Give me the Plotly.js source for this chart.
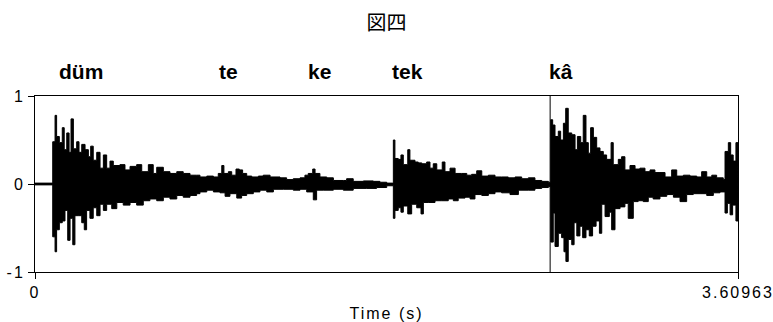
<!DOCTYPE html>
<html>
<head>
<meta charset="utf-8">
<script src="https://cdn.plot.ly/plotly-3.0.1.min.js"></script>
<style>
html,body{margin:0;padding:0;background:#fff;}
#chart{width:773px;height:322px;}
#chart .xtick text, #chart .ytick text, #chart .g-xtitle text{letter-spacing:2px;}
</style>
</head>
<body>
<div id="chart"></div>
<script>
// Waveform envelope (time in s, amplitude)
const upperTime = [0,0.088,0.091,0.103,0.111,0.125,0.140,0.150,0.163,0.175,0.185,0.197,0.214,0.226,0.240,0.257,0.274,0.286,0.299,0.317,0.334,0.351,0.368,0.385,0.402,0.436,0.462,0.488,0.522,0.548,0.582,0.607,0.625,0.659,0.693,0.728,0.761,0.796,0.830,
0.847,0.882,0.916,0.941,0.959,0.970,0.993,1.010,1.032,1.049,1.066,1.087,1.113,1.147,1.172,1.207,1.258,1.292,1.326,1.361,1.386,1.403,1.426,1.438,1.463,1.498,1.532,1.583,1.600,1.634,1.686,1.737,1.771,1.806,1.837,
1.840,1.848,1.865,1.879,1.891,1.914,1.925,1.951,1.968,1.986,2.011,2.028,2.045,2.063,2.091,2.105,2.131,2.157,2.191,2.217,2.242,2.268,2.294,2.328,2.362,2.396,2.430,2.465,2.499,2.533,2.567,2.602,2.636,
2.648,2.658,2.670,2.687,2.699,2.713,2.725,2.738,2.756,2.773,2.785,2.802,2.815,2.829,2.841,2.853,2.867,2.884,2.901,2.918,2.935,2.958,2.969,2.995,3.012,3.029,3.055,3.081,3.106,3.132,3.158,3.183,3.209,3.235,3.269,3.295,3.329,3.363,3.398,3.423,3.449,3.475,3.500,3.534,3.543,3.560,3.572,3.585,3.599,3.6096];
const upperAmp = [0.01,0.01,0.48,0.78,0.54,0.47,0.64,0.39,0.58,0.36,0.74,0.40,0.48,0.36,0.45,0.39,0.31,0.43,0.27,0.36,0.18,0.33,0.18,0.26,0.21,0.22,0.16,0.20,0.22,0.14,0.22,0.12,0.19,0.14,0.12,0.14,0.12,0.10,0.10,
0.08,0.09,0.08,0.12,0.21,0.12,0.14,0.10,0.17,0.16,0.12,0.09,0.08,0.09,0.10,0.08,0.07,0.05,0.06,0.07,0.10,0.12,0.17,0.12,0.08,0.07,0.04,0.04,0.06,0.03,0.035,0.03,0.02,0.01,0.01,
0.50,0.29,0.28,0.33,0.22,0.39,0.27,0.25,0.24,0.23,0.25,0.18,0.23,0.16,0.25,0.14,0.18,0.12,0.12,0.10,0.11,0.15,0.09,0.10,0.08,0.08,0.07,0.08,0.06,0.07,0.04,0.03,0.02,
0.73,0.67,0.54,0.60,0.50,0.69,0.86,0.58,0.56,0.39,0.54,0.47,0.78,0.47,0.35,0.64,0.53,0.41,0.37,0.33,0.28,0.47,0.22,0.28,0.31,0.16,0.21,0.17,0.18,0.14,0.16,0.13,0.13,0.08,0.16,0.09,0.10,0.09,0.08,0.14,0.08,0.10,0.07,0.05,0.37,0.47,0.33,0.26,0.47,0.47];

const lowerTime = [0,0.088,0.091,0.103,0.111,0.125,0.140,0.154,0.168,0.180,0.194,0.205,0.222,0.240,0.253,0.265,0.282,0.299,0.317,0.334,0.351,0.368,0.394,0.420,0.453,0.488,0.522,0.556,0.590,0.625,0.659,0.693,0.728,0.761,0.796,0.830,
0.847,0.882,0.916,0.950,0.976,1.001,1.036,1.061,1.087,1.121,1.155,1.190,1.224,1.275,1.326,1.361,1.395,1.429,1.446,1.480,1.532,1.583,1.634,1.703,1.754,1.806,
1.840,1.848,1.865,1.879,1.891,1.914,1.934,1.960,1.982,1.994,2.019,2.054,2.088,2.122,2.148,2.173,2.208,2.234,2.259,2.294,2.328,2.362,2.396,2.439,2.482,2.533,2.567,2.602,2.636,
2.648,2.661,2.670,2.687,2.704,2.716,2.726,2.738,2.756,2.768,2.782,2.798,2.812,2.829,2.846,2.863,2.881,2.898,2.910,2.927,2.949,2.961,2.978,3.004,3.029,3.046,3.072,3.097,3.123,3.149,3.174,3.209,3.244,3.278,3.312,3.346,3.380,3.415,3.449,3.483,3.517,3.543,3.555,3.569,3.582,3.599,3.6096];
const lowerAmp = [-0.01,-0.01,-0.60,-0.77,-0.52,-0.44,-0.42,-0.30,-0.64,-0.39,-0.69,-0.36,-0.36,-0.44,-0.52,-0.30,-0.39,-0.27,-0.36,-0.23,-0.30,-0.23,-0.28,-0.21,-0.24,-0.21,-0.24,-0.19,-0.17,-0.19,-0.15,-0.17,-0.13,-0.15,-0.13,-0.11,
-0.09,-0.07,-0.09,-0.10,-0.14,-0.11,-0.16,-0.13,-0.11,-0.09,-0.07,-0.09,-0.06,-0.06,-0.07,-0.06,-0.09,-0.18,-0.07,-0.07,-0.06,-0.07,-0.05,-0.05,-0.04,-0.02,
-0.39,-0.30,-0.27,-0.32,-0.25,-0.34,-0.23,-0.27,-0.34,-0.21,-0.21,-0.19,-0.19,-0.17,-0.19,-0.16,-0.15,-0.17,-0.12,-0.13,-0.11,-0.09,-0.10,-0.12,-0.07,-0.07,-0.05,-0.04,-0.03,
-0.66,-0.33,-0.71,-0.56,-0.61,-0.77,-0.88,-0.63,-0.69,-0.44,-0.59,-0.48,-0.61,-0.52,-0.59,-0.48,-0.42,-0.56,-0.23,-0.37,-0.32,-0.52,-0.28,-0.26,-0.22,-0.39,-0.20,-0.19,-0.20,-0.15,-0.17,-0.14,-0.12,-0.15,-0.20,-0.12,-0.11,-0.11,-0.13,-0.10,-0.09,-0.33,-0.22,-0.35,-0.24,-0.42,-0.42];

const syllables = ["düm", "te", "ke", "tek", "kâ"];
const syllableTimes = [0.236, 0.994, 1.463, 1.913, 2.701];
const boundaryTimes = [2.645];
const duration = 3.60963;
const xTickVals = [0, duration];
const xTickText = ["0", "3.60963"];
const yTickVals = [-1, 0, 1];
const yTickText = ["-1", "0", "1"];
const chartTitle = "図四";
const xTitle = "Time (s)";

const sansFont = "Liberation Sans, Arial, sans-serif";

const traces = [
  {x: upperTime, y: upperAmp, type: "scatter", mode: "lines", line: {shape: "hv", color: "#000", width: 1}, fill: "tozeroy", fillcolor: "#000", hoverinfo: "skip"},
  {x: lowerTime, y: lowerAmp, type: "scatter", mode: "lines", line: {shape: "hv", color: "#000", width: 1}, fill: "tozeroy", fillcolor: "#000", hoverinfo: "skip"}
];

const annotations = syllables.map((s, i) => ({
  x: syllableTimes[i], xref: "x", y: 1.14, yref: "paper", text: s, showarrow: false,
  xanchor: "center", yanchor: "middle",
  font: {family: sansFont, size: 21, color: "#000", weight: "bold"}
}));

const shapes = boundaryTimes.map(t => ({
  type: "line", xref: "x", yref: "paper", x0: t, x1: t, y0: 0, y1: 1,
  line: {color: "#000", width: 1}
}));

const layout = {
  width: 773, height: 322,
  margin: {l: 35, r: 35, t: 96, b: 50},
  paper_bgcolor: "#fff", plot_bgcolor: "#fff",
  showlegend: false,
  title: {text: chartTitle, x: 0.5, xanchor: "center", y: 0.929, yanchor: "middle",
    font: {family: "Noto Sans CJK JP, sans-serif", size: 20, color: "#000"}},
  xaxis: {range: [0, duration], tickvals: xTickVals, ticktext: xTickText, ticks: "outside", ticklen: 6,
    tickcolor: "#000", showline: true, mirror: true, linecolor: "#000", linewidth: 1, showgrid: false, zeroline: false,
    tickfont: {family: sansFont, size: 16, color: "#000"},
    title: {text: xTitle, standoff: 10, font: {family: sansFont, size: 16, color: "#000"}}},
  yaxis: {range: [-1, 1], tickvals: yTickVals, ticktext: yTickText, ticks: "outside", ticklen: 6,
    tickcolor: "#000", showline: true, mirror: true, linecolor: "#000", linewidth: 1, showgrid: false, zeroline: false,
    tickfont: {family: sansFont, size: 16, color: "#000"}},
  annotations: annotations,
  shapes: shapes
};

Plotly.newPlot("chart", traces, layout, {staticPlot: true, displayModeBar: false});
</script>
</body>
</html>
